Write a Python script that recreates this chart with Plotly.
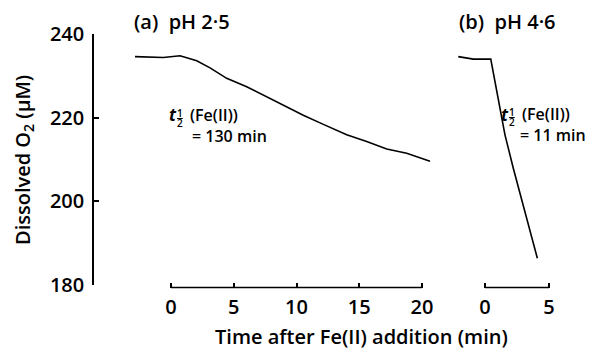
import plotly.graph_objects as go

# ---------------- data ----------------
t_a = [-2.87, -0.61, 0.72, 2.05, 3.11, 4.44, 6.03, 7.89, 9.48, 10.54, 12.14, 14.0, 15.59, 17.19, 18.78, 20.64]
o2_a = [234.6, 234.4, 234.8, 233.6, 231.9, 229.4, 227.4, 224.6, 222.2, 220.6, 218.4, 215.9, 214.3, 212.5, 211.5, 209.6]

t_b = [-2.09, -0.91, 0.45, 0.78, 1.17, 1.56, 2.21, 2.99, 3.65, 4.09]
o2_b = [234.6, 234.0, 234.0, 228.6, 221.4, 215.9, 207.9, 199.1, 192.0, 186.4]

y_ticks = [180, 200, 220, 240]
x_ticks_a = [0, 5, 10, 15, 20]
x_ticks_b = [0, 5]

W, H = 591, 350
FONT = "Open Sans"


def px(x):
    return x / W


def py(y):
    return 1 - y / H


fig = go.Figure()
fig.add_trace(go.Scatter(x=t_a, y=o2_a, mode="lines", xaxis="x", yaxis="y",
                         line=dict(color="black", width=1.6), showlegend=False, hoverinfo="skip"))
fig.add_trace(go.Scatter(x=t_b, y=o2_b, mode="lines", xaxis="x2", yaxis="y",
                         line=dict(color="black", width=1.6), showlegend=False, hoverinfo="skip"))

tickfont = dict(family=FONT, size=20, color="black", weight=600)
axis_y_pos = py(287.5)

fig.update_layout(
    template="none",
    width=W, height=H,
    margin=dict(l=0, r=0, t=0, b=0, pad=0),
    paper_bgcolor="white", plot_bgcolor="white",
    font=dict(family=FONT, color="black"),
    xaxis=dict(domain=[px(120), px(440)], range=[(120 - 171) / 12.55, (440 - 171) / 12.55],
               anchor="free", position=axis_y_pos, showline=False, showgrid=False, zeroline=False,
               automargin=False,
               tickvals=x_ticks_a, ticks="inside", ticklen=5, tickwidth=1.5, tickcolor="black",
               tickfont=tickfont, ticklabelstandoff=5),
    xaxis2=dict(domain=[px(450), px(560)], range=[(450 - 485) / 12.8, (560 - 485) / 12.8],
                anchor="free", position=axis_y_pos, showline=False, showgrid=False, zeroline=False,
                automargin=False,
                tickvals=x_ticks_b, ticks="inside", ticklen=5, tickwidth=1.5, tickcolor="black",
                tickfont=tickfont, ticklabelstandoff=5),
    yaxis=dict(domain=[py(285), py(34)], range=[180, 240], anchor="free", position=px(93),
               showline=True, linecolor="black", linewidth=1.5, showgrid=False, zeroline=False,
               automargin=False,
               tickvals=y_ticks, ticks="inside", ticklen=5, tickwidth=1.5, tickcolor="black",
               tickfont=tickfont, ticklabelstandoff=4),
)

# x-axis lines spanning only the tick range
for xr, ticks in (("x", x_ticks_a), ("x2", x_ticks_b)):
    fig.add_shape(type="line", xref=xr, yref="paper", x0=min(ticks), x1=max(ticks),
                  y0=axis_y_pos, y1=axis_y_pos, line=dict(color="black", width=1.5))

big = dict(family=FONT, size=20, color="black", weight=600)
small = dict(family=FONT, size=16, color="black", weight=600)
tiny = dict(family=FONT, size=10, color="black", weight=600)


def ann(text, x, y, font, **kw):
    fig.add_annotation(text=text, x=px(x), y=py(y), xref="paper", yref="paper",
                       showarrow=False, font=font, xanchor="center", yanchor="middle", **kw)


ann("(a)  pH 2·5", 181.5, 22, big)
ann("(b)  pH 4·6", 507, 22, big)
ann("Time after Fe(II) addition (min)", 361, 336, big)
ann("Dissolved O<sub>2</sub> (μM)", 24, 160, big, textangle=-90)

# half-life annotations
for tx, ty, txt, dx in ((173, 115, "= 130 min", 56), (505, 114, "= 11 min", 48)):
    ann("<i>t</i>", tx, ty, dict(family=FONT, size=17, color="black", weight=700))
    ann("<u>1</u>", tx + 6.5, ty - 2, tiny)
    ann("2", tx + 6.5, ty + 8, tiny)
    ann("(Fe(II))", tx + 41, ty, small)
    ann(txt, tx + dx, ty + 21, small)

fig.write_html("out.html", config={"displayModeBar": False},
               post_script="document.body.style.margin='0px';")
